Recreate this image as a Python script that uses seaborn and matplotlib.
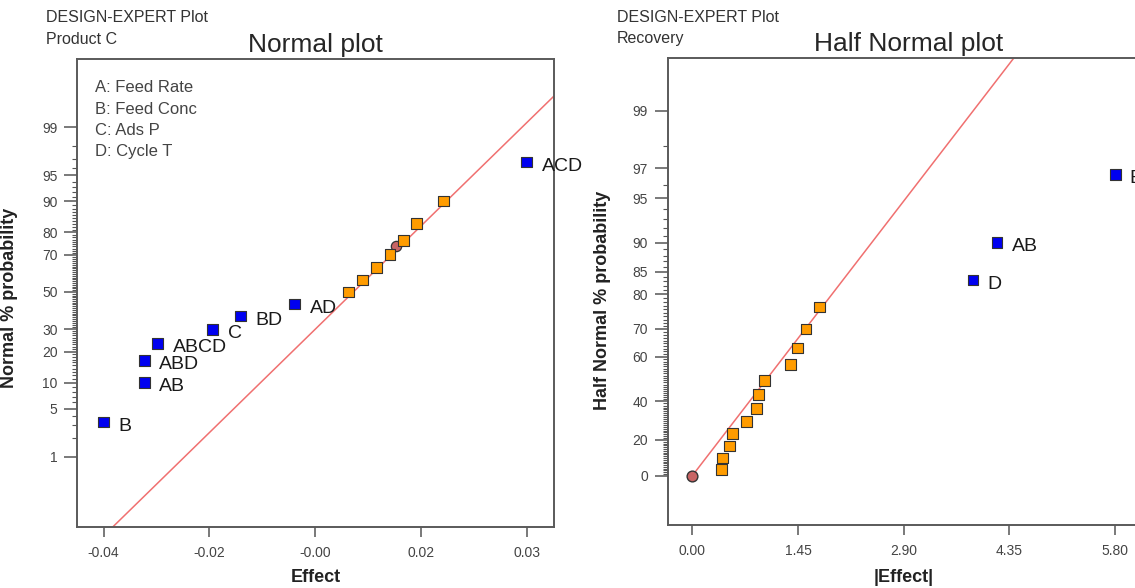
import numpy as np
import pandas as pd
import matplotlib
matplotlib.use("Agg")
import matplotlib.pyplot as plt
import seaborn as sns
from statistics import NormalDist

sns.set_theme(style="white")
plt.rcParams['font.family'] = ['Liberation Sans', 'DejaVu Sans']

nd = NormalDist()

# ---- left panel: normal plot, Product C
normal_terms = ["B", "AB", "ABD", "ABCD", "C", "BD", "AD",
                "", "", "", "", "", "", "", "ACD"]
normal_effect = [-0.0401, -0.0330, -0.0330, -0.0307, -0.0210, -0.0162, -0.0067,
                 0.0027, 0.0052, 0.0077, 0.0100, 0.0124, 0.0147, 0.0194, 0.0339]
normal_prob = [3.33, 10.0, 16.67, 23.33, 30.0, 36.67, 43.33,
               50.0, 56.67, 63.33, 70.0, 76.67, 83.33, 90.0, 96.67]
normal_kind = ["effect"] * 7 + ["error"] * 7 + ["effect"]
normal_center_effect = [0.0110]
normal_center_prob = [74.3]
normal_line_mu = 0.0036
normal_line_sigma = 0.0127
normal_yticks = [1, 5, 10, 20, 30, 50, 70, 80, 90, 95, 99]
factor_names = ["A: Feed Rate", "B: Feed Conc", "C: Ads P", "D: Cycle T"]

# ---- right panel: half normal plot, Recovery
half_terms = [""] * 12 + ["D", "AB", "B"]
half_effect = [0.40, 0.41, 0.51, 0.55, 0.74, 0.88, 0.91, 0.99,
               1.35, 1.44, 1.56, 1.75, 3.85, 4.18, 5.80]
half_prob = [3.33, 10.0, 16.67, 23.33, 30.0, 36.67, 43.33,
             50.0, 56.67, 63.33, 70.0, 76.67, 83.33, 90.0, 96.67]
half_kind = ["error"] * 12 + ["effect"] * 3
half_center_effect = [0.0]
half_center_prob = [0.0]
half_line_sigma = 1.495
half_yticks = [0, 20, 40, 60, 70, 80, 85, 90, 95, 97, 99]


def z_normal(p):
    return nd.inv_cdf(p / 100.0)


def z_half(p):
    return nd.inv_cdf(0.5 + p / 200.0)


palette = {"effect": "#0000F0", "error": "#FF9C00"}
grey = "#555555"

fig = plt.figure(figsize=(11.35, 5.88), dpi=100)
axL = fig.add_axes([77 / 1135, 61 / 588, 477 / 1135, 468 / 588])
axR = fig.add_axes([667.5 / 1135, 63 / 588, 482.5 / 1135, 467 / 588])


def style_axes(ax):
    for sp in ax.spines.values():
        sp.set_color("#5a5a5a")
        sp.set_linewidth(1.4)
    ax.tick_params(axis="x", which="major", direction="out", length=7, width=1.1,
                   color=grey, labelsize=10, labelcolor="#444444", pad=7, bottom=True)
    ax.tick_params(axis="y", which="major", direction="out", length=9.5, width=1.1,
                   color=grey, labelsize=10, labelcolor="#444444", pad=4.5, left=True)
    ax.tick_params(axis="y", which="minor", direction="out", length=3.5, width=0.8,
                   color=grey, left=True)


# ---- left
dfL = pd.DataFrame({"effect": normal_effect,
                    "z": [z_normal(p) for p in normal_prob],
                    "kind": normal_kind, "term": normal_terms})
xl = (-0.04475, 0.0387)
line_x = np.array(xl)
axL.plot(line_x, (line_x - normal_line_mu) / normal_line_sigma,
         color="#F07070", lw=1.1, zorder=1)
sns.scatterplot(data=dfL, x="effect", y="z", hue="kind", palette=palette,
                marker="s", s=60, edgecolor="#333333", linewidth=0.8,
                legend=False, ax=axL, zorder=3)
sns.scatterplot(x=normal_center_effect, y=[z_normal(p) for p in normal_center_prob],
                color="#C86464", marker="o", s=55, edgecolor="#333333",
                linewidth=0.9, ax=axL, zorder=2)
for _, r in dfL.iterrows():
    if r["term"]:
        axL.annotate(r["term"], (r["effect"], r["z"]), xytext=(11, -3),
                     textcoords="offset points", fontsize=14, va="center",
                     color="#1a1a1a")
for i, name in enumerate(factor_names):
    axL.text(0.037, 0.929 - i * 0.0457, name, transform=axL.transAxes,
             fontsize=12, color="#444444", va="baseline")

axL.set_xlim(*xl)
axL.set_ylim(-3.315, 3.286)
xt = np.linspace(min(normal_effect), max(normal_effect), 5)
axL.set_xticks(xt)
axL.set_xticklabels([f"{v:.2f}" for v in xt])
axL.set_yticks([z_normal(p) for p in normal_yticks])
axL.set_yticklabels([str(p) for p in normal_yticks])
axL.set_yticks([z_normal(p) for p in range(1, 100) if p not in normal_yticks], minor=True)
axL.set_title("Normal plot", fontsize=19, pad=5)
axL.set_xlabel("Effect", fontsize=13, fontweight="bold", color="#222222")
axL.set_ylabel("Normal % probability", fontsize=13, fontweight="bold", color="#222222")
axL.xaxis.set_label_coords(0.5, -0.09)
axL.yaxis.set_label_coords(-0.124, 0.49)
style_axes(axL)

# ---- right
dfR = pd.DataFrame({"effect": half_effect,
                    "z": [z_half(p) for p in half_prob],
                    "kind": half_kind, "term": half_terms})
xr = (-0.340, 6.278)
line_xr = np.array([0.0, xr[1]])
axR.plot(line_xr, line_xr / half_line_sigma, color="#F07070", lw=1.1, zorder=1)
sns.scatterplot(data=dfR, x="effect", y="z", hue="kind", palette=palette,
                marker="s", s=60, edgecolor="#333333", linewidth=0.8,
                legend=False, ax=axR, zorder=3)
sns.scatterplot(x=half_center_effect, y=[z_half(p) for p in half_center_prob],
                color="#C86464", marker="o", s=60, edgecolor="#333333",
                linewidth=1.0, ax=axR, zorder=2)
for _, r in dfR.iterrows():
    if r["term"]:
        axR.annotate(r["term"], (r["effect"], r["z"]), xytext=(10.5, -3),
                     textcoords="offset points", fontsize=14, va="center",
                     color="#1a1a1a")

axR.set_xlim(*xr)
axR.set_ylim(-0.348, 2.95)
xt2 = np.linspace(0, max(half_effect), 5)
axR.set_xticks(xt2)
axR.set_xticklabels([f"{v:.2f}" for v in xt2])
axR.set_yticks([z_half(p) for p in half_yticks])
axR.set_yticklabels([str(p) for p in half_yticks])
axR.set_yticks([z_half(p) for p in range(1, 100) if p not in half_yticks], minor=True)
axR.set_title("Half Normal plot", fontsize=19, pad=5)
axR.set_xlabel("|Effect|", fontsize=13, fontweight="bold", color="#222222")
axR.set_ylabel("Half Normal % probability", fontsize=13, fontweight="bold", color="#222222")
axR.xaxis.set_label_coords(0.49, -0.095)
axR.yaxis.set_label_coords(-0.117, 0.48)
style_axes(axR)

# header text
for x0, lines in [(46, ["DESIGN-EXPERT Plot", "Product C"]),
                  (617, ["DESIGN-EXPERT Plot", "Recovery"])]:
    for j, t in enumerate(lines):
        fig.text(x0 / 1135, 1 - (22 + 21.5 * j) / 588, t, fontsize=11.5,
                 color="#333333", va="baseline")

fig.savefig("out.png", dpi=100)
